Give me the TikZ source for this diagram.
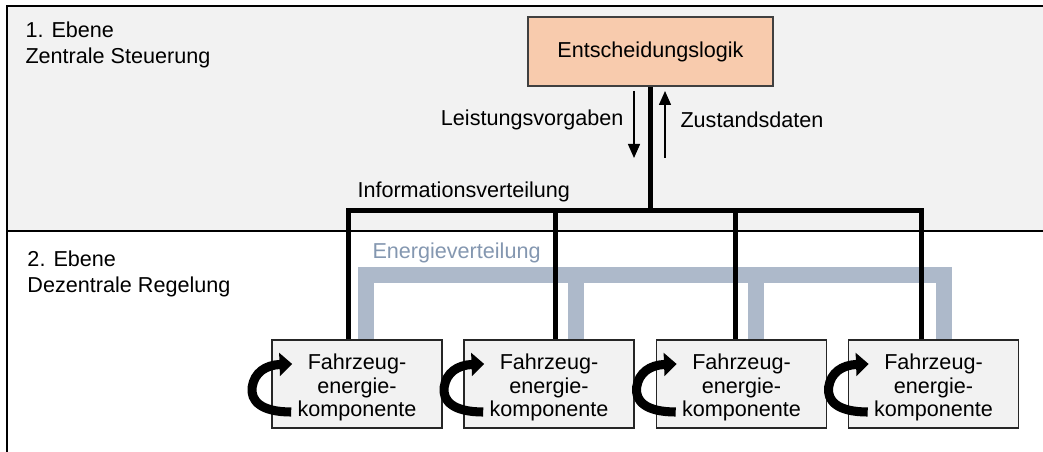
\documentclass[tikz,border=0pt]{standalone}
\usepackage{fontspec}
\setmainfont{Liberation Sans}
\usetikzlibrary{arrows.meta}
\definecolor{ebenegrau}{RGB}{242,242,242}
\definecolor{logikorange}{RGB}{248,203,173}
\definecolor{energieblau}{RGB}{173,185,202}
\definecolor{energietext}{RGB}{132,151,176}
\tikzset{every picture/.style={line width=0.75pt}}
\tikzset{
  ebenetext/.style={anchor=north west, inner sep=0pt, align=left, font=\fontsize{16.2}{19.5}\selectfont},
  logikbox/.style={draw=black!75, line width=1.2, fill=logikorange, minimum width=183.75pt, minimum height=51.75pt, inner sep=0pt},
  kompbox/.style={draw=black!85, line width=1.2, fill=ebenegrau, minimum width=127.5pt, minimum height=66pt, inner sep=0pt, align=center, font=\fontsize{16.2}{17.6}\selectfont},
  infoline/.style={line width=3.75, black},
  energieline/.style={line width=12, energieblau},
  datenpfeil/.style={line width=1.1, -{Triangle[length=10.5pt,width=9pt]}},
  kreispfeil/.style={line width=6.8, -{Triangle[length=9.5pt,width=17pt]}}
}

\begin{document}
\begin{tikzpicture}[x=0.75pt,y=0.75pt,yscale=-1,xscale=1, font=\fontsize{16.2}{19}\selectfont]
\useasboundingbox (0,0) rectangle (1043,452);

%Shape: Rectangle [1. Ebene]
\fill [ebenegrau] (7,6) rectangle (1043,231);
\draw [line width=1.5] (1043,6) -- (7,6) -- (7,452);
\draw [line width=1.5] (7,231) -- (1043,231);

\node [ebenetext] (ebene1) at (25,21) {1. Ebene\\Zentrale Steuerung};
\node [ebenetext] (ebene2) at (27,250) {2. Ebene\\Dezentrale Regelung};

%Shape: Rectangle [Entscheidungslogik]
\node [logikbox] (logik) at (650.5,51.5) {Entscheidungslogik};

%Komponenten
\foreach \n/\x in {1/357,2/549,3/741.5,4/933.5}
  \node [kompbox] (k\n) at (\x,384) {\rule{0pt}{17pt}Fahrzeug-\\energie-\\komponente};

%Energieverteilung
\coordinate (en1) at (366,275);
\coordinate (en2) at (576,275);
\coordinate (en3) at (756,275);
\coordinate (en4) at (944,275);
\draw [energieline] (en1 |- k1.north) -- (en1) -- (en4) -- (en4 |- k4.north);
\draw [energieline] (en2) -- (en2 |- k2.north);
\draw [energieline] (en3) -- (en3 |- k3.north);
\node [anchor=west, inner sep=0pt, text=energietext] (energie) at (372,253) {Energieverteilung};

%Informationsverteilung
\coordinate (i1) at (348,210.5);
\coordinate (i2) at (555,210.5);
\coordinate (i3) at (735,210.5);
\coordinate (i4) at (921,210.5);
\draw [infoline] (logik.south) -- (logik.south |- i1);
\draw [infoline] (i1 |- k1.north) -- (i1) -- (i4) -- (i4 |- k4.north);
\draw [infoline] (i2) -- (i2 |- k2.north);
\draw [infoline] (i3) -- (i3 |- k3.north);
\node [anchor=west, inner sep=0pt] (info) at (357,192) {Informationsverteilung};

%Datenpfeile
\coordinate (vo) at (634,91);
\coordinate (vu) at (634,158);
\coordinate (zu) at (665,158);
\coordinate (zo) at (665,91);
\draw [datenpfeil] (vo) -- (vu);
\draw [datenpfeil] (zu) -- (zo);
\node [anchor=east, inner sep=0pt] (leistung) at (624,120) {Leistungsvorgaben};
\node [anchor=west, inner sep=0pt] (zustand) at (680,120) {Zustandsdaten};

%Regelkreise
\foreach \n in {1,...,4}
  \draw [kreispfeil, shift={(k\n.west)}] (20,28) .. controls (-10,28) and (-21,17) .. (-19,3) .. controls (-17,-11) and (-6,-19) .. (21,-20);

\end{tikzpicture}
\end{document}
